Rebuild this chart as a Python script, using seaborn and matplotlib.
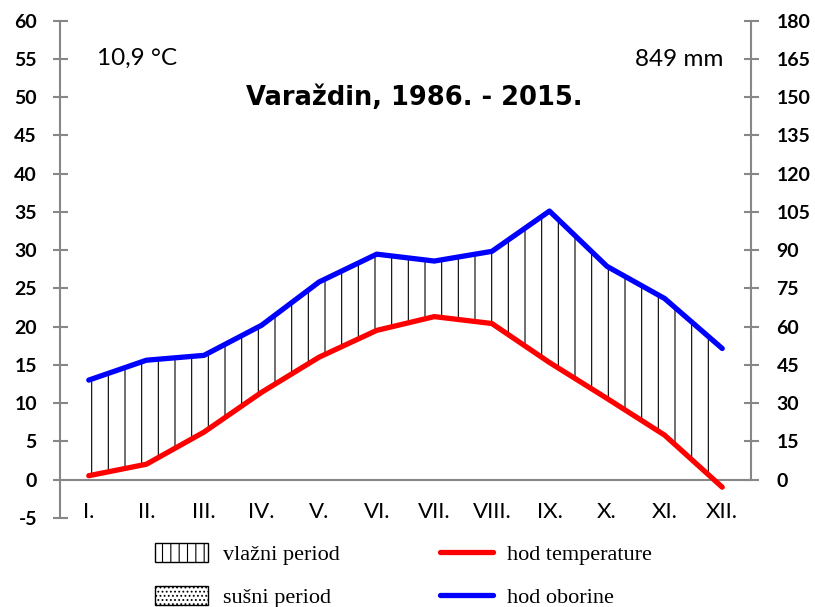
import matplotlib
matplotlib.use("Agg")
import matplotlib.pyplot as plt
import matplotlib.ticker as mticker
from matplotlib.patches import Patch
from matplotlib.lines import Line2D
import numpy as np
import pandas as pd
import seaborn as sns

# ── Data ─────────────────────────────────────────────────
months = ["I.", "II.", "III.", "IV.", "V.", "VI.", "VII.", "VIII.", "IX.", "X.", "XI.", "XII."]
temperature = [0.5, 2.0, 6.2, 11.4, 16.0, 19.5, 21.3, 20.4, 15.3, 10.6, 5.8, -1.0]
precipitation = [39.0, 46.8, 48.7, 60.5, 77.5, 88.4, 85.7, 89.5, 105.3, 83.6, 71.0, 51.4]

title = "Varaždin, 1986. - 2015."
mean_temp_label = "10,9 °C"
total_prec_label = "849 mm"
legend_labels = ["vlažni period", "sušni period", "hod temperature", "hod oborine"]

sns.set_style("white")
plt.rcParams["font.family"] = ["Lato", "DejaVu Sans"]
plt.rcParams["hatch.linewidth"] = 0.8
plt.rcParams["axes.unicode_minus"] = False
plt.rcParams["text.color"] = "black"
plt.rcParams["xtick.labelcolor"] = "black"
plt.rcParams["ytick.labelcolor"] = "black"

GRAY = "#878787"

df = pd.DataFrame({"month": months, "pos": np.arange(len(months)),
                   "temp": temperature, "prec": precipitation})
df["prec_scaled"] = df["prec"] / 3.0

fig = plt.figure(figsize=(8.15, 6.07), dpi=100)
ax = fig.add_axes([0.0736, 0.147, 0.8479, 0.819])
ax2 = ax.twinx()

# humid period hatch between the two curves
ax.fill_between(df["pos"], df["temp"], df["prec_scaled"], facecolor="none",
                edgecolor="black", hatch="|", linewidth=0, zorder=1)

sns.lineplot(data=df, x="pos", y="temp", ax=ax, color="#FF0000", linewidth=3.8, zorder=3)
sns.lineplot(data=df, x="pos", y="prec", ax=ax2, color="#0000FF", linewidth=3.8, zorder=3)

# ── Left axis ─────────────────────────────────────────────
ax.set_xlim(-0.5, len(months) - 0.5)
ax.set_ylim(-5, 60)
ax.set_yticks(np.arange(-5, 61, 5))
ax.set_xlabel("")
ax.set_ylabel("")
ax.spines["top"].set_visible(False)
ax.spines["right"].set_visible(False)
ax.spines["bottom"].set_position(("data", 0))
for s in ["left", "bottom"]:
    ax.spines[s].set_color(GRAY)
    ax.spines[s].set_linewidth(1.5)
ax.tick_params(axis="y", direction="inout", length=10.8, width=1.5, color=GRAY,
               pad=11.2, labelsize=14, labelcolor="black")
for lab in ax.get_yticklabels():
    lab.set_fontweight("bold")

ax.xaxis.set_major_locator(mticker.FixedLocator(np.arange(-0.5, len(months), 1.0)))
ax.xaxis.set_major_formatter(mticker.NullFormatter())
ax.xaxis.set_minor_locator(mticker.FixedLocator(np.arange(len(months))))
ax.xaxis.set_minor_formatter(mticker.FixedFormatter(months))
ax.tick_params(axis="x", which="major", direction="inout", length=10.8, width=1.5, color=GRAY)
ax.tick_params(axis="x", which="minor", length=0, pad=16.5, labelsize=16, labelcolor="black")

# ── Right axis ────────────────────────────────────────────
ax2.set_ylim(-15, 180)
ax2.set_yticks(np.arange(0, 181, 15))
ax2.set_ylabel("")
for s in ["top", "left", "bottom"]:
    ax2.spines[s].set_visible(False)
ax2.spines["right"].set_bounds(0, 180)
ax2.spines["right"].set_color(GRAY)
ax2.spines["right"].set_linewidth(1.5)
ax2.tick_params(axis="y", direction="inout", length=10.8, width=1.5, color=GRAY,
                pad=13, labelsize=14, labelcolor="black")
for lab in ax2.get_yticklabels():
    lab.set_fontweight("bold")

# ── Texts ─────────────────────────────────────────────────
ax.text(0.512, 0.844, title, transform=ax.transAxes, ha="center", va="center",
        fontsize=18.5, fontweight="bold", family="DejaVu Sans", color="black")
ax.text(0.0535, 0.925, mean_temp_label, transform=ax.transAxes, ha="left", va="center",
        fontsize=17.5, color="black")
ax.text(0.9595, 0.921, total_prec_label, transform=ax.transAxes, ha="right", va="center",
        fontsize=17.5, color="black")

# ── Legend ────────────────────────────────────────────────
handles = [
    Patch(facecolor="white", edgecolor="black", hatch="||", linewidth=1.0),
    Patch(facecolor="white", edgecolor="black", hatch="....", linewidth=1.0),
    Line2D([0], [0], color="#FF0000", linewidth=3.8),
    Line2D([0], [0], color="#0000FF", linewidth=3.8),
]
fig.legend(handles, legend_labels, ncol=2, loc="upper left", bbox_to_anchor=(0.1902, 0.1048),
           frameon=False, borderpad=0, borderaxespad=0,
           prop={"family": "Liberation Serif", "size": 16},
           handlelength=2.4, handleheight=0.9, handletextpad=0.65,
           columnspacing=4.5, labelspacing=0.95, labelcolor="black")

fig.savefig("out.png", dpi=100)
